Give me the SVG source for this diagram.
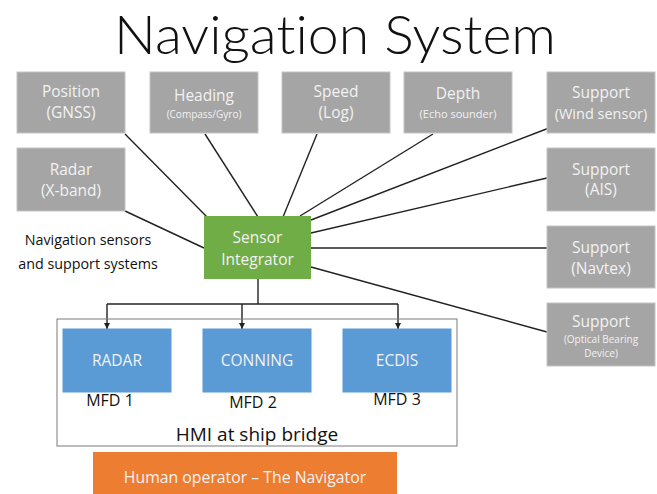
<svg xmlns="http://www.w3.org/2000/svg" width="657" height="494" viewBox="0 0 657 494">
<defs>
<style>
text{font-family:"Open Sans","Noto Sans","Liberation Sans",sans-serif;text-anchor:middle}
.g rect{fill:#a5a5a5;stroke:#c4c4c4;stroke-width:1}
.g text,.w{fill:#f2f2f2}
.b rect{fill:#5b9bd5;stroke:#5b9bd5}
.t{font-size:15.5px}
.s{font-size:10px}
.k{fill:#111}
.c line,.c path{stroke:#222;stroke-width:1.4;fill:none}
</style>
<marker id="ah" viewBox="0 0 10 10" refX="10" refY="5" markerWidth="4.5" markerHeight="4.5" orient="auto" markerUnits="strokeWidth">
<path d="M0,0 L10,5 L0,10 z" fill="#222"/>
</marker>
</defs>
<rect width="657" height="494" fill="#fff"/>
<text x="335" y="54" textLength="442" lengthAdjust="spacingAndGlyphs" class="k" style="font-family:Lato,'Open Sans',sans-serif;font-size:54px;font-weight:300;font-variant-ligatures:none;font-feature-settings:'liga' 0,'dlig' 0">Navigation System</text>

<g class="c" id="connectors">
<line x1="125" y1="134" x2="207" y2="217"/>
<line x1="205" y1="134" x2="258" y2="217"/>
<line x1="317" y1="134" x2="283" y2="217"/>
<line x1="433" y1="134" x2="300" y2="216"/>
<line x1="549" y1="128" x2="311" y2="220"/>
<line x1="125" y1="211" x2="204" y2="248"/>
<line x1="547" y1="178" x2="311" y2="233"/>
<line x1="311" y1="248" x2="547" y2="248"/>
<line x1="311" y1="267" x2="547" y2="332"/>
<line x1="258" y1="279" x2="258" y2="304"/>
<path d="M107,304 H398"/>
<line x1="107" y1="304" x2="107" y2="329" marker-end="url(#ah)"/>
<line x1="242" y1="304" x2="242" y2="329" marker-end="url(#ah)"/>
<line x1="398" y1="304" x2="398" y2="329" marker-end="url(#ah)"/>
</g>

<g class="g" id="position"><rect x="17" y="72" width="108" height="61"/><text x="71" y="97" class="t">Position</text><text x="71" y="118" class="t">(GNSS)</text></g>
<g class="g" id="heading"><rect x="150" y="72" width="108" height="61"/><text x="204" y="101" class="t">Heading</text><text x="204" y="118" class="s">(Compass/Gyro)</text></g>
<g class="g" id="speed"><rect x="282" y="72" width="108" height="61"/><text x="336" y="97" class="t">Speed</text><text x="336" y="118" class="t">(Log)</text></g>
<g class="g" id="depth"><rect x="404" y="72" width="108" height="61"/><text x="458" y="99" class="t">Depth</text><text x="458" y="118" style="font-size:11px">(Echo sounder)</text></g>
<g class="g" id="wind"><rect x="547" y="72" width="108" height="61"/><text x="601" y="98" class="t">Support</text><text x="601" y="119" style="font-size:14.5px">(Wind sensor)</text></g>
<g class="g" id="radar"><rect x="17" y="148" width="108" height="63"/><text x="71" y="175" class="t">Radar</text><text x="71" y="196" class="t">(X-band)</text></g>
<g class="g" id="ais"><rect x="547" y="148" width="108" height="63"/><text x="601" y="175" class="t">Support</text><text x="601" y="195" class="t">(AIS)</text></g>
<g class="g" id="navtex"><rect x="547" y="226" width="108" height="62"/><text x="601" y="253" class="t">Support</text><text x="601" y="274" class="t">(Navtex)</text></g>
<g class="g" id="optical"><rect x="547" y="303" width="108" height="63"/><text x="601" y="327" class="t">Support</text><text x="601" y="343" class="s">(Optical Bearing</text><text x="601" y="357" class="s">Device)</text></g>

<g id="integrator"><rect x="204" y="216" width="107" height="63" fill="#70ad47"/><text x="257.5" y="243" class="t w">Sensor</text><text x="257.5" y="265" class="t w">Integrator</text></g>

<g id="label"><text x="88" y="245" class="k" style="font-size:14.3px">Navigation sensors</text><text x="88" y="269" class="k" style="font-size:14.3px">and support systems</text></g>

<g id="hmi"><rect x="57" y="319" width="400" height="127" fill="none" stroke="#7a7a7a" stroke-width="1"/><text x="257" y="441" class="k" style="font-size:19px">HMI at ship bridge</text></g>
<g class="b" id="mfd1"><rect x="63" y="329" width="108" height="63"/><text x="117" y="366" class="t w">RADAR</text><text x="110" y="406" class="k" style="font-size:16px">MFD 1</text></g>
<g class="b" id="mfd2"><rect x="203" y="329" width="108" height="63"/><text x="257" y="366" class="t w">CONNING</text><text x="253" y="408" class="k" style="font-size:16px">MFD 2</text></g>
<g class="b" id="mfd3"><rect x="343" y="329" width="108" height="63"/><text x="397" y="366" class="t w">ECDIS</text><text x="397" y="405" class="k" style="font-size:16px">MFD 3</text></g>

<g id="operator"><rect x="93" y="452" width="304" height="50" fill="#ed7d31"/><text x="245" y="483" class="w" style="font-size:15.8px">Human operator – The Navigator</text></g>
</svg>
